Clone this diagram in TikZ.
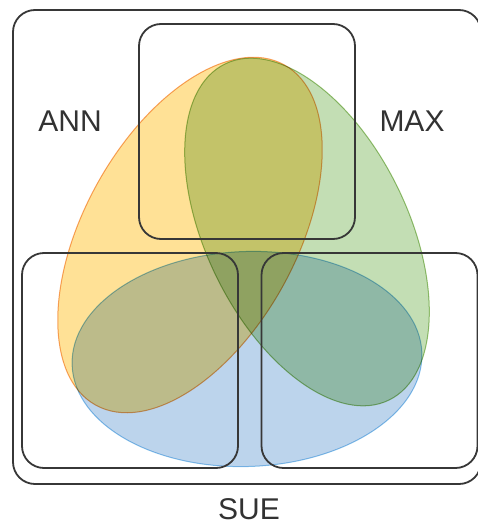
\documentclass[tikz,border=0pt]{standalone}
\usepackage{fontspec}
\setmainfont{Liberation Sans}
\usepackage{xcolor}
\usetikzlibrary{shapes.geometric}
\definecolor{annOrange}{RGB}{255,225,150}
\definecolor{annEdge}{RGB}{246,168,105}
\definecolor{maxGreen}{RGB}{195,222,180}
\definecolor{maxEdge}{RGB}{158,198,122}
\definecolor{sueBlue}{RGB}{188,212,236}
\definecolor{sueEdge}{RGB}{140,198,238}
\definecolor{boxLine}{RGB}{55,55,55}
\definecolor{darkText}{RGB}{50,50,50}
\tikzset{
    setellipse/.style={
        ellipse,
        inner sep=0pt,
        line width=1pt
    },
    groupbox/.style={
        rectangle,
        draw=boxLine,
        line width=1.8pt,
        rounded corners=22pt,
        inner sep=0pt,
        minimum width=216pt,
        minimum height=215pt
    },
    namelabel/.style={
        text=darkText,
        font=\fontsize{30}{32}\selectfont,
        inner sep=0pt
    }
}

\begin{document}
\begin{tikzpicture}[x=1pt, y=-1pt]
    \useasboundingbox (0,0) rectangle (477,527);

    \begin{scope}[blend group=multiply]
        \node[setellipse, draw=sueEdge, fill=sueBlue, minimum width=350pt, minimum height=215pt, rotate=2] (sueset) at (247,359) {};
        \node[setellipse, draw=annEdge, fill=annOrange, minimum width=389pt, minimum height=212pt, rotate=61] (annset) at (190,235) {};
        \node[setellipse, draw=maxEdge, fill=maxGreen, minimum width=374pt, minimum height=202pt, rotate=-64] (maxset) at (307,232) {};
    \end{scope}

    \node[groupbox, minimum width=468pt, minimum height=474pt] (all) at (247,247) {};
    \node[groupbox] (topbox) at (247,131.5) {};
    \node[groupbox] (leftbox) at (130,360.5) {};
    \node[groupbox] (rightbox) at (369.5,360.5) {};

    \node[namelabel] (ann) at (70,121) {ANN};
    \node[namelabel] (max) at (412,121) {MAX};
    \node[namelabel] (sue) at (249,509) {SUE};
\end{tikzpicture}
\end{document}
